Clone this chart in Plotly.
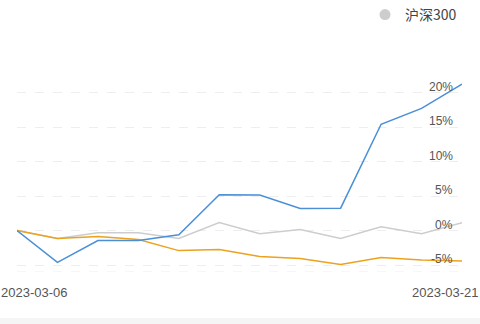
import plotly.graph_objects as go

dates = ["2023-03-06", "2023-03-07", "2023-03-08", "2023-03-09", "2023-03-10",
         "2023-03-13", "2023-03-14", "2023-03-15", "2023-03-16", "2023-03-17",
         "2023-03-20", "2023-03-21"]
fund = [0, -4.6, -1.45, -1.45, -0.6, 5.2, 5.15, 3.2, 3.25, 15.4, 17.7, 21.2]
hs300 = [0, -1.15, -0.3, -0.3, -1.15, 1.15, -0.45, 0.15, -1.15, 0.55, -0.45, 1.15]
peer = [0, -1.15, -0.85, -1.3, -2.9, -2.75, -3.75, -4.05, -4.9, -3.9, -4.25, -4.4]
ytick_vals = [-5, 0, 5, 10, 15, 20]
ytick_text = ["-5%", "0%", "5%", "10%", "15%", "20%"]
x_labels = ["2023-03-06", "2023-03-21"]

BLUE = "#4a8fd8"
ORANGE = "#eba21f"
GRAY = "#cdcdcd"

fig = go.Figure()
fig.add_trace(go.Scatter(x=dates, y=hs300, mode="lines", line=dict(color=GRAY, width=1.5),
                         showlegend=False, hoverinfo="skip"))
fig.add_trace(go.Scatter(x=dates, y=peer, mode="lines", line=dict(color=ORANGE, width=1.5),
                         showlegend=False, hoverinfo="skip"))
fig.add_trace(go.Scatter(x=dates, y=fund, mode="lines", line=dict(color=BLUE, width=1.5),
                         showlegend=False, hoverinfo="skip"))
fig.add_trace(go.Scatter(x=[None], y=[None], mode="markers", name="沪深300",
                         marker=dict(color=GRAY, size=11, symbol="circle")))

annotations = []
for v, t in zip(ytick_vals, ytick_text):
    annotations.append(dict(x=1, xref="paper", y=v, yref="y", text=t, showarrow=False,
                            xanchor="right", yanchor="bottom", xshift=-7, yshift=-3,
                            font=dict(family="Liberation Sans, Arial", size=12, color="#555")))
annotations.append(dict(x=dates[0], xref="x", y=0, yref="paper", text=x_labels[0], showarrow=False,
                        xanchor="left", yanchor="top", xshift=-18, yshift=-11,
                        font=dict(family="Liberation Sans, Arial", size=13, color="#555")))
annotations.append(dict(x=dates[-1], xref="x", y=0, yref="paper", text=x_labels[1], showarrow=False,
                        xanchor="right", yanchor="top", xshift=19, yshift=-11,
                        font=dict(family="Liberation Sans, Arial", size=13, color="#555")))

shapes = [
    dict(type="line", xref="paper", yref="y", x0=0, x1=1, y0=-6, y1=-6,
         line=dict(color="#eeeeee", width=1, dash="dash"), layer="below"),
    dict(type="rect", xref="paper", yref="paper", x0=-0.1, x1=1.1,
         y0=-0.35, y1=-(318 - 272) / 214,
         fillcolor="#f5f5f5", line=dict(width=0), layer="below"),
]

fig.update_layout(
    width=480, height=324,
    margin=dict(l=17, r=18, t=58, b=52, autoexpand=False),
    paper_bgcolor="white", plot_bgcolor="white",
    showlegend=True,
    legend=dict(x=(462 - 17) / 445, y=1 + (58 - 15) / 214,
                xanchor="right", yanchor="middle", bgcolor="rgba(0,0,0,0)",
                font=dict(family="Noto Sans CJK SC, Liberation Sans", size=14, color="#444"),
                itemwidth=30),
    xaxis=dict(type="category", showgrid=False, showticklabels=False, zeroline=False,
               showline=False, range=[0, len(dates) - 1]),
    yaxis=dict(range=[-6, 25], tickvals=[-5, 0, 5, 10, 15, 20, 25], showticklabels=False,
               showgrid=True, gridcolor="#eeeeee", griddash="dash", gridwidth=1,
               zeroline=False, showline=False),
    annotations=annotations,
    shapes=shapes,
)

fig.write_html("out.html")
